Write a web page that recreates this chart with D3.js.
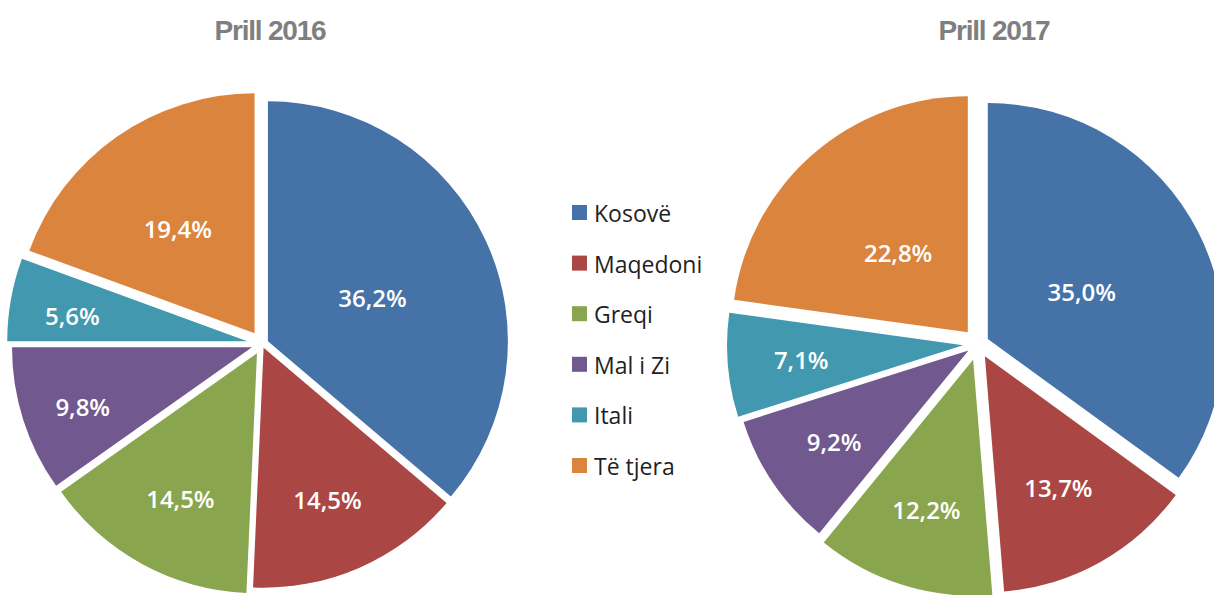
<!DOCTYPE html>
<html>
<head>
<meta charset="utf-8">
<script src="https://cdn.jsdelivr.net/npm/d3@7"></script>
<style>
    html, body { margin: 0; padding: 0; background: #fff; overflow: hidden; }
    #chart { width: 1214px; height: 595px; }
</style>
</head>
<body>
<div id="chart"></div>
<script>
const categories = ["Kosovë", "Maqedoni", "Greqi", "Mal i Zi", "Itali", "Të tjera"];
const values2016 = [36.2, 14.5, 14.5, 9.8, 5.6, 19.4];
const values2017 = [35.0, 13.7, 12.2, 9.2, 7.1, 22.8];
const titles = ["Prill 2016", "Prill 2017"];

// slice explosion (px) per point, like excel's point explosion
const explode2016 = [6.5, 4, 10.5, 10.5, 15, 13];
const explode2017 = [11, 14, 16.5, 11.5, 15, 15.5];

const colors = ["#4572A7", "#AA4643", "#89A54E", "#71588F", "#4198AF", "#DB843D"];

const width = 1214, height = 595;

const svg = d3.select("#chart").append("svg")
    .attr("width", width)
    .attr("height", height);

const color = d3.scaleOrdinal().domain(categories).range(colors);

const locale = d3.formatLocale({ decimal: ",", thousands: ".", grouping: [3], currency: ["", ""] });
const fmt = locale.format(".1f");

const pie = d3.pie().sort(null).value(d => d.value);

let pies = [
    { title: titles[0], values: values2016, explode: explode2016, cx: 262, cy: 344, r: 240, titleX: 270, labelScale: 1, labelDy: 5 },
    { title: titles[1], values: values2017, explode: explode2017, cx: 978, cy: 344, r: 236, titleX: 994, labelScale: 0.93, labelDy: 0 }
];

// label distance as share of radius: narrow slices push label outward
function labelRatio(half) {
    return Math.max(0.48, 0.74 - 0.7 * Math.max(0, half - 0.35));
}

pies.forEach(p => {
    let data = categories.map((c, i) => ({ name: c, value: p.values[i], off: p.explode[i] }));
    let arcs = pie(data);

    let arc = d3.arc().innerRadius(0).outerRadius(p.r);

    let g = svg.append("g")
        .attr("transform", "translate(" + p.cx + "," + p.cy + ")");

    let slices = g.selectAll(".slice")
        .data(arcs)
        .enter().append("g")
        .attr("class", "slice")
        .attr("transform", d => {
            let c = d3.arc().innerRadius(d.data.off).outerRadius(d.data.off).centroid(d);
            return "translate(" + c[0] + "," + c[1] + ")";
        });

    slices.append("path")
        .attr("d", arc)
        .style("fill", d => color(d.data.name));

    slices.append("text")
        .attr("transform", d => {
            let half = (d.endAngle - d.startAngle) / 2;
            let lr = p.r * labelRatio(half) * p.labelScale;
            let c = d3.arc().innerRadius(lr).outerRadius(lr).centroid(d);
            return "translate(" + c[0] + "," + (c[1] + p.labelDy) + ")";
        })
        .attr("text-anchor", "middle")
        .attr("dominant-baseline", "central")
        .style("font-family", "'Open Sans', sans-serif")
        .style("font-weight", 600)
        .style("font-size", "24px")
        .style("fill", "#fff")
        .text(d => fmt(d.data.value) + "%");

    svg.append("text")
        .attr("x", p.titleX)
        .attr("y", 40)
        .attr("text-anchor", "middle")
        .style("font-family", "'Liberation Sans', Arial, sans-serif")
        .style("font-weight", "bold")
        .style("font-size", "28px")
        .style("letter-spacing", "-1.2px")
        .style("fill", "#7f7f7f")
        .text(p.title);
});

// legend
let legend = svg.append("g")
    .attr("transform", "translate(572,213)");

let items = legend.selectAll(".item")
    .data(categories)
    .enter().append("g")
    .attr("class", "item")
    .attr("transform", (d, i) => "translate(0," + i * 50.6 + ")");

items.append("rect")
    .attr("x", 0)
    .attr("y", -8)
    .attr("width", 15)
    .attr("height", 15)
    .style("fill", d => color(d));

items.append("text")
    .attr("x", 22)
    .attr("y", 0)
    .attr("dominant-baseline", "central")
    .style("font-family", "'Open Sans', sans-serif")
    .style("font-size", "23px")
    .style("fill", "#1f1f1f")
    .text(d => d);
</script>
</body>
</html>
